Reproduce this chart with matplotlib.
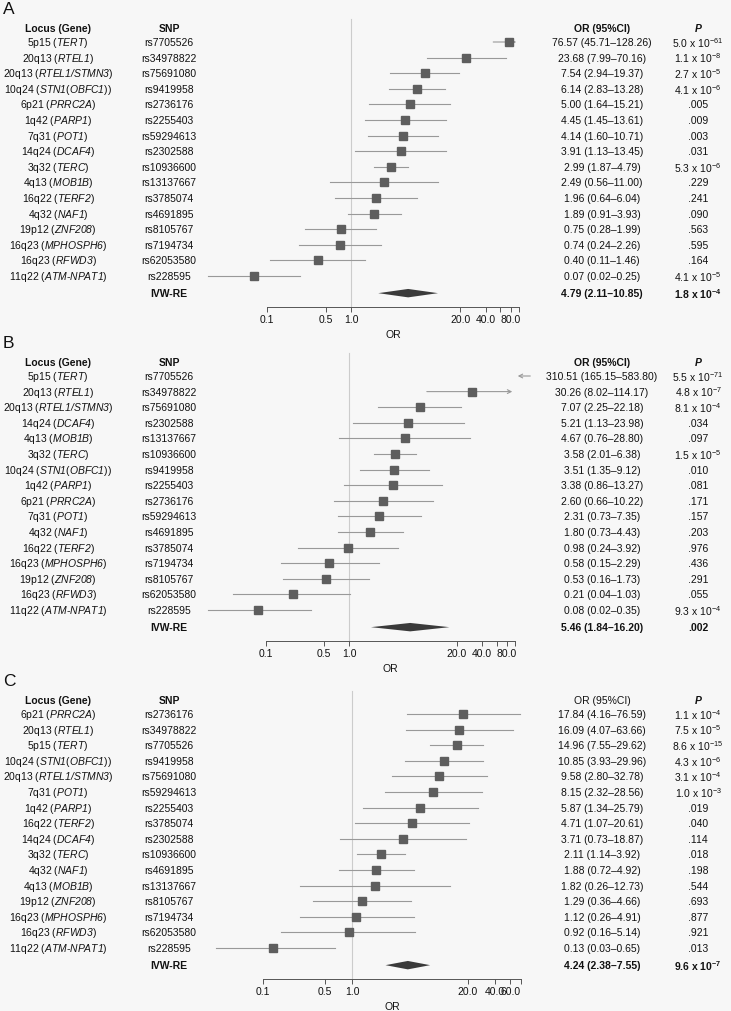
import re

import matplotlib
import numpy as np

matplotlib.use("Agg")
import matplotlib.pyplot as plt
from matplotlib.patches import Polygon
from matplotlib.transforms import blended_transform_factory

W, H = 731, 1012
FONT = "Liberation Sans"
BG = "#f7f7f7"
INK = "#111111"
FS = 7.5

# ---- panel A -------------------------------------------------------------
LOCUS_A = ["5p15", "20q13", "20q13", "10q24", "6p21", "1q42", "7q31", "14q24",
           "3q32", "4q13", "16q22", "4q32", "19p12", "16q23", "16q23", "11q22"]
GENE_A = ["TERT", "RTEL1", "RTEL1/STMN3", "STN1(OBFC1)", "PRRC2A", "PARP1", "POT1", "DCAF4",
          "TERC", "MOB1B", "TERF2", "NAF1", "ZNF208", "MPHOSPH6", "RFWD3", "ATM-NPAT1"]
SNP_A = ["rs7705526", "rs34978822", "rs75691080", "rs9419958", "rs2736176", "rs2255403",
         "rs59294613", "rs2302588", "rs10936600", "rs13137667", "rs3785074", "rs4691895",
         "rs8105767", "rs7194734", "rs62053580", "rs228595"]
OR_A = [76.57, 23.68, 7.54, 6.14, 5.00, 4.45, 4.14, 3.91, 2.99, 2.49, 1.96, 1.89, 0.75, 0.74, 0.40, 0.07]
LO_A = [45.71, 7.99, 2.94, 2.83, 1.64, 1.45, 1.60, 1.13, 1.87, 0.56, 0.64, 0.91, 0.28, 0.24, 0.11, 0.02]
HI_A = [128.26, 70.16, 19.37, 13.28, 15.21, 13.61, 10.71, 13.45, 4.79, 11.00, 6.04, 3.93, 1.99, 2.26, 1.46, 0.25]
P_A = ["5.0 x 10^-61", "1.1 x 10^-8", "2.7 x 10^-5", "4.1 x 10^-6", ".005", ".009", ".003", ".031",
       "5.3 x 10^-6", ".229", ".241", ".090", ".563", ".595", ".164", "4.1 x 10^-5"]
IVW_A = (4.79, 2.11, 10.85, "1.8 x 10^-4")

# ---- panel B -------------------------------------------------------------
LOCUS_B = ["5p15", "20q13", "20q13", "14q24", "4q13", "3q32", "10q24", "1q42",
           "6p21", "7q31", "4q32", "16q22", "16q23", "19p12", "16q23", "11q22"]
GENE_B = ["TERT", "RTEL1", "RTEL1/STMN3", "DCAF4", "MOB1B", "TERC", "STN1(OBFC1)", "PARP1",
          "PRRC2A", "POT1", "NAF1", "TERF2", "MPHOSPH6", "ZNF208", "RFWD3", "ATM-NPAT1"]
SNP_B = ["rs7705526", "rs34978822", "rs75691080", "rs2302588", "rs13137667", "rs10936600",
         "rs9419958", "rs2255403", "rs2736176", "rs59294613", "rs4691895", "rs3785074",
         "rs7194734", "rs8105767", "rs62053580", "rs228595"]
OR_B = [310.51, 30.26, 7.07, 5.21, 4.67, 3.58, 3.51, 3.38, 2.60, 2.31, 1.80, 0.98, 0.58, 0.53, 0.21, 0.08]
LO_B = [165.15, 8.02, 2.25, 1.13, 0.76, 2.01, 1.35, 0.86, 0.66, 0.73, 0.73, 0.24, 0.15, 0.16, 0.04, 0.02]
HI_B = [583.80, 114.17, 22.18, 23.98, 28.80, 6.38, 9.12, 13.27, 10.22, 7.35, 4.43, 3.92, 2.29, 1.73, 1.03, 0.35]
P_B = ["5.5 x 10^-71", "4.8 x 10^-7", "8.1 x 10^-4", ".034", ".097", "1.5 x 10^-5", ".010", ".081",
       ".171", ".157", ".203", ".976", ".436", ".291", ".055", "9.3 x 10^-4"]
IVW_B = (5.46, 1.84, 16.20, ".002")

# ---- panel C -------------------------------------------------------------
LOCUS_C = ["6p21", "20q13", "5p15", "10q24", "20q13", "7q31", "1q42", "16q22",
           "14q24", "3q32", "4q32", "4q13", "19p12", "16q23", "16q23", "11q22"]
GENE_C = ["PRRC2A", "RTEL1", "TERT", "STN1(OBFC1)", "RTEL1/STMN3", "POT1", "PARP1", "TERF2",
          "DCAF4", "TERC", "NAF1", "MOB1B", "ZNF208", "MPHOSPH6", "RFWD3", "ATM-NPAT1"]
SNP_C = ["rs2736176", "rs34978822", "rs7705526", "rs9419958", "rs75691080", "rs59294613",
         "rs2255403", "rs3785074", "rs2302588", "rs10936600", "rs4691895", "rs13137667",
         "rs8105767", "rs7194734", "rs62053580", "rs228595"]
OR_C = [17.84, 16.09, 14.96, 10.85, 9.58, 8.15, 5.87, 4.71, 3.71, 2.11, 1.88, 1.82, 1.29, 1.12, 0.92, 0.13]
LO_C = [4.16, 4.07, 7.55, 3.93, 2.80, 2.32, 1.34, 1.07, 0.73, 1.14, 0.72, 0.26, 0.36, 0.26, 0.16, 0.03]
HI_C = [76.59, 63.66, 29.62, 29.96, 32.78, 28.56, 25.79, 20.61, 18.87, 3.92, 4.92, 12.73, 4.66, 4.91, 5.14, 0.65]
P_C = ["1.1 x 10^-4", "7.5 x 10^-5", "8.6 x 10^-15", "4.3 x 10^-6", "3.1 x 10^-4", "1.0 x 10^-3",
       ".019", ".040", ".114", ".018", ".198", ".544", ".693", ".877", ".921", ".013"]
IVW_C = (4.24, 2.38, 7.55, "9.6 x 10^-7")

TICKS_AB = [0.1, 0.5, 1, 20, 40, 60, 80, 100]
TICKLABELS_AB = ["0.1", "0.5", "1.0", "20.0", "40.0", "", "80.0", ""]
TICKS_C = [0.1, 0.5, 1, 20, 40, 60, 80]
TICKLABELS_C = ["0.1", "0.5", "1.0", "20.0", "40.0", "60.0", ""]

STEP = 15.6          # pixels per row
X_LOCUS, X_SNP, X_OR, X_P = 58, 169, 602, 698
AX_LEFT, AX_RIGHT = 180, 545


def setup_style() -> None:
    # math mode is used only for the italic gene names and the exponents
    plt.rcParams.update(
        {
            "font.family": FONT,
            "font.size": FS,
            "text.color": INK,
            "mathtext.fontset": "custom",
            "mathtext.rm": FONT + ":italic",
            "mathtext.it": FONT + ":italic",
            "mathtext.sf": FONT,
            "mathtext.bf": FONT + ":bold",
        }
    )


def locus_label(locus: str, gene: str) -> str:
    parts = re.split(r"([()\-])", gene)
    body = "".join(f"$\\mathrm{{{p}}}$" if p and p not in "()-" else p for p in parts)
    return f"{locus} ({body})"


def p_label(p: str, bold: bool = False) -> str:
    if " x 10^" not in p:
        return p
    mant, expo = p.split(" x 10^")
    if bold:
        return f"{mant} x $\\mathbf{{10^{{{expo}}}}}$"
    return f"{mant} x 10$^{{\\mathsf{{{expo}}}}}$"


def draw_panel(fig, row0, x01, decade, letter, loci, genes, snps, ors, los, his, ps, ivw,
               ticks, ticklabels, or_header_bold=True):
    top = row0 - 2 * STEP
    bottom = row0 + 17 * STEP
    ax = fig.add_axes([AX_LEFT / W, 1 - bottom / H, (AX_RIGHT - AX_LEFT) / W, (bottom - top) / H])
    ax.set_facecolor("none")
    ax.set_xscale("log")
    ax.set_xlim(10 ** (-1 + (AX_LEFT - x01) / decade), 10 ** (-1 + (AX_RIGHT - x01) / decade))
    ax.set_ylim(17, -2)
    ax.set_yticks([])
    for side in ["top", "right", "left"]:
        ax.spines[side].set_visible(False)
    axis_max = ticks[-1]
    ax.spines["bottom"].set_bounds(ticks[0], axis_max)
    ax.spines["bottom"].set_color("#555555")
    ax.spines["bottom"].set_linewidth(0.7)
    ax.set_xticks(ticks)
    ax.set_xticklabels(ticklabels)
    ax.minorticks_off()
    ax.tick_params(axis="x", length=3.5, width=0.7, color="#555555", labelsize=FS, pad=1.5, labelcolor=INK)
    ax.text(np.sqrt(ticks[0] * axis_max), 18.7, "OR", ha="center", va="center", fontsize=FS)

    ax.plot([1, 1], [-1.5, 17], color="#cccccc", linewidth=0.8, zorder=1)

    y = np.arange(len(ors))
    for yi, o, lo, hi in zip(y, ors, los, his):
        arrow = dict(arrowstyle="->,head_length=0.35,head_width=0.18", color="#999999", lw=0.8)
        if lo > axis_max:
            ax.annotate("", xy=(axis_max, yi), xytext=(lo, yi), arrowprops=arrow)
            continue
        if hi > axis_max:
            ax.annotate("", xy=(axis_max, yi), xytext=(lo, yi), arrowprops=arrow)
        else:
            ax.plot([lo, hi], [yi, yi], color="#999999", linewidth=0.8, zorder=2)
        ax.plot(o, yi, marker="s", markersize=5.2, color="#5e5e5e", linestyle="none", zorder=3)

    yd = 16.1
    o, lo, hi, p = ivw
    ax.add_patch(Polygon([(lo, yd), (o, yd - 0.27), (hi, yd), (o, yd + 0.27)],
                         closed=True, facecolor="#3a3a3a", edgecolor="none", zorder=3))

    tr = blended_transform_factory(fig.transFigure, ax.transData)
    kw = dict(transform=tr, ha="center", va="center", fontsize=FS, clip_on=False)
    ax.text(X_LOCUS / W, -0.9, "Locus (Gene)", fontweight="bold", **kw)
    ax.text(X_SNP / W, -0.9, "SNP", fontweight="bold", **kw)
    ax.text(X_OR / W, -0.9, "OR (95%CI)", fontweight="bold" if or_header_bold else "normal", **kw)
    ax.text(X_P / W, -0.9, "P", fontweight="bold", fontstyle="italic", **kw)
    for yi, loc, gene, snp, o_, lo_, hi_, p_ in zip(y, loci, genes, snps, ors, los, his, ps):
        ax.text(X_LOCUS / W, yi, locus_label(loc, gene), **kw)
        ax.text(X_SNP / W, yi, snp, **kw)
        ax.text(X_OR / W, yi, f"{o_:.2f} ({lo_:.2f}\u2013{hi_:.2f})", **kw)
        ax.text(X_P / W, yi, p_label(p_), **kw)
    ax.text(X_SNP / W, yd, "IVW-RE", fontweight="bold", **kw)
    ax.text(X_OR / W, yd, f"{o:.2f} ({lo:.2f}\u2013{hi:.2f})", fontweight="bold", **kw)
    ax.text(X_P / W, yd, p_label(p, bold=True), fontweight="bold", **kw)

    fig.text(3 / W, 1 - (row0 - 33) / H, letter, ha="left", va="center", fontsize=12.5)
    return ax


def main() -> None:
    setup_style()
    fig = plt.figure(figsize=(W / 100, H / 100), dpi=100)
    fig.patch.set_facecolor(BG)
    draw_panel(fig, 43, 267, 84, "A", LOCUS_A, GENE_A, SNP_A, OR_A, LO_A, HI_A, P_A, IVW_A,
               TICKS_AB, TICKLABELS_AB)
    draw_panel(fig, 377, 266, 83, "B", LOCUS_B, GENE_B, SNP_B, OR_B, LO_B, HI_B, P_B, IVW_B,
               TICKS_AB, TICKLABELS_AB)
    draw_panel(fig, 715, 263, 89, "C", LOCUS_C, GENE_C, SNP_C, OR_C, LO_C, HI_C, P_C, IVW_C,
               TICKS_C, TICKLABELS_C, or_header_bold=False)
    fig.savefig("out.png", dpi=100, facecolor=BG)
    plt.close(fig)


if __name__ == "__main__":
    main()
